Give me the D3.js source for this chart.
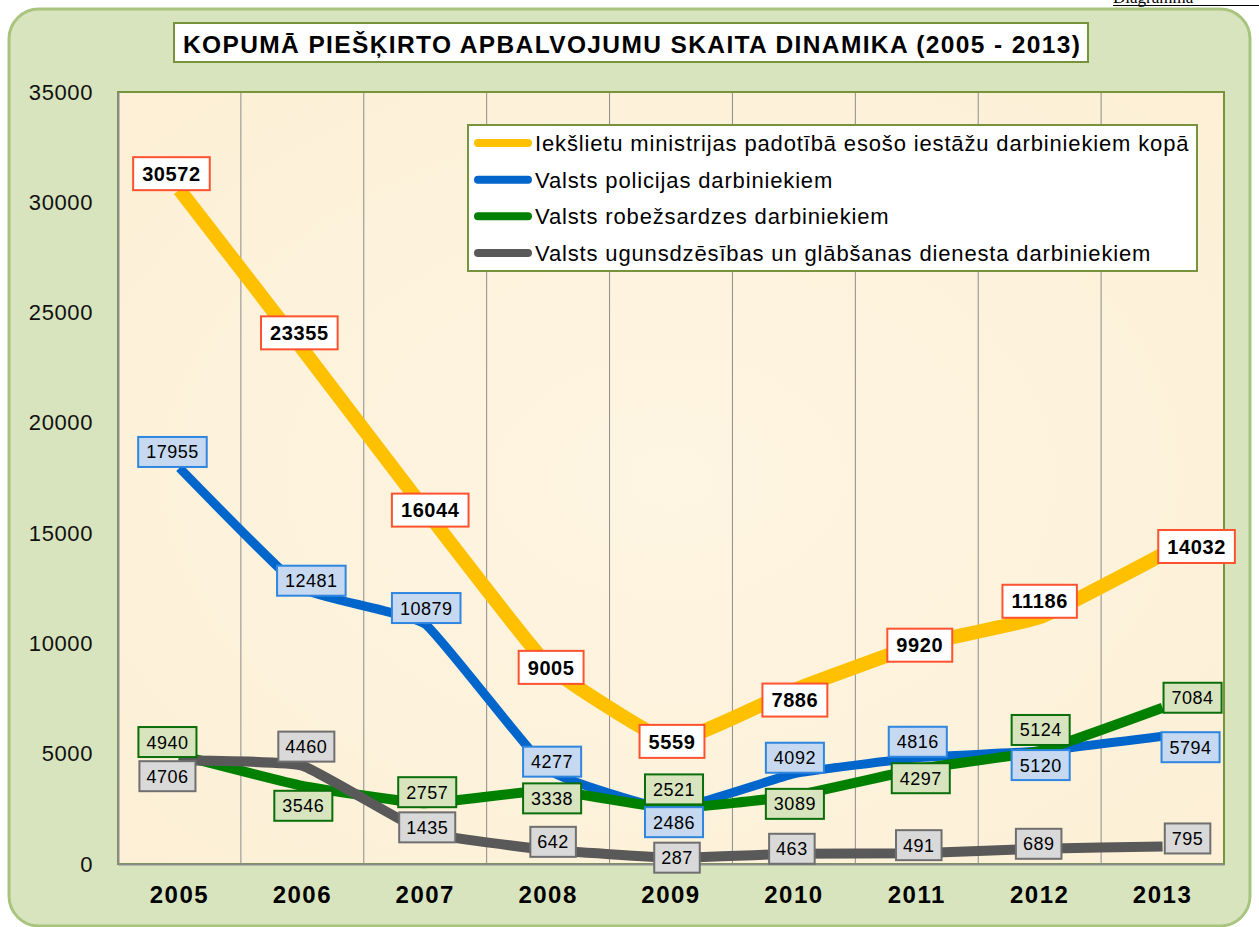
<!DOCTYPE html>
<html>
<head>
<meta charset="utf-8">
<script src="https://cdn.jsdelivr.net/npm/d3@7"></script>
<style>
  html, body { margin: 0; padding: 0; background: #ffffff; }
  svg { display: block; }
</style>
</head>
<body>
<svg id="chart" width="1259" height="927"></svg>
<script>
// ---- data ----
const years = ["2005","2006","2007","2008","2009","2010","2011","2012","2013"];
const totalMinistry = [30572, 23355, 16044, 9005, 5559, 7886, 9920, 11186, 14032];
const statePolice   = [17955, 12481, 10879, 4277, 2486, 4092, 4816, 5120, 5794];
const borderGuard   = [4940, 3546, 2757, 3338, 2521, 3089, 4297, 5124, 7084];
const fireRescue    = [4706, 4460, 1435, 642, 287, 463, 491, 689, 795];
const yTicks = [0, 5000, 10000, 15000, 20000, 25000, 30000, 35000];
const seriesNames = [
  "Iekšlietu ministrijas padotībā esošo iestāžu darbiniekiem kopā",
  "Valsts policijas darbiniekiem",
  "Valsts robežsardzes darbiniekiem",
  "Valsts ugunsdzēsības un glābšanas dienesta darbiniekiem"
];
const chartTitle = "KOPUMĀ PIEŠĶIRTO APBALVOJUMU SKAITA DINAMIKA (2005 - 2013)";

// ---- layout / styles ----
const plot = { left: 118, right: 1224, top: 92, bottom: 864 };
const FONT = "Liberation Sans, Arial, sans-serif";

const styles = [
  { line: "#ffc000", width: 14, fill: "#ffffff", stroke: "#ff5330", bold: true,  fs: 20, h: 33, pad: 9,  ls: 0.6 },
  { line: "#0066cc", width: 9,  fill: "#c6d9f1", stroke: "#2f86e0", bold: false, fs: 18, h: 30, pad: 8,  ls: 0.5 },
  { line: "#008000", width: 10, fill: "#d7e4bd", stroke: "#0a6e0a", bold: false, fs: 18, h: 30, pad: 8,  ls: 0.5 },
  { line: "#595959", width: 10, fill: "#d9d9d9", stroke: "#6f6f6f", bold: false, fs: 18, h: 30, pad: 7,  ls: 0.5 }
];
// label box centre offsets from each point (pixels)
const labelOffsets = [
  [[-8,-16],[-3,-16],[5,0],[3,2],[1,0],[1,10],[3,0],[0,-16],[34,-8]],
  [[-7,-16],[9,-8],[1,-16],[4,-8],[3,13],[1,-16],[1,-16],[1,14],[28,11]],
  [[-12,-13],[1,20],[2,-11],[4,8],[3,-19],[1,8],[4,9],[1,-21],[30,-10]],
  [[-12,16],[4,-19],[2,-5],[5,-8],[6,0],[-2,-5],[2,-8],[-1,-5],[25,-8]]
];

const series = [totalMinistry, statePolice, borderGuard, fireRescue];

const svg = d3.select("#chart");

// stretch a text's letter spacing so that it spans a target width
function fitWidth(sel, target) {
  const node = sel.node();
  const n = sel.text().length;
  const len = node.getComputedTextLength();
  sel.attr("letter-spacing", Math.max(0, (target - len) / (n - 1)));
}

// top-right cut-off caption
svg.append("text").attr("x", 1113).attr("y", 3)
  .attr("font-family", "Liberation Serif, Times New Roman, serif")
  .attr("font-size", 17).attr("fill", "#000").text("Diagramma");
svg.append("line").attr("x1", 1113).attr("x2", 1259).attr("y1", 5.5).attr("y2", 5.5)
  .attr("stroke", "#000").attr("stroke-width", 1.2);

// outer panel
svg.append("rect").attr("x", 9).attr("y", 9).attr("width", 1241).attr("height", 917)
  .attr("rx", 30).attr("ry", 30)
  .attr("fill", "#d7e4bd").attr("stroke", "#a9c47f").attr("stroke-width", 3);

// title box
svg.append("rect").attr("x", 174).attr("y", 23).attr("width", 914).attr("height", 39)
  .attr("fill", "#ffffff").attr("stroke", "#77933c").attr("stroke-width", 2);
const title = svg.append("text").attr("x", 183).attr("y", 53)
  .attr("font-family", FONT).attr("font-weight", "bold")
  .attr("font-size", 24.5).attr("fill", "#000").text(chartTitle);
fitWidth(title, 897);

// scales
const x = d3.scaleBand().domain(years).range([plot.left, plot.right]).padding(0);
const y = d3.scaleLinear().domain([0, 35000]).range([plot.bottom, plot.top]);
const cx = d => x(d) + x.bandwidth() / 2;

// plot background
const defs = svg.append("defs");
const grad = defs.append("radialGradient").attr("id", "bg").attr("cx", "50%").attr("cy", "50%").attr("r", "75%");
grad.append("stop").attr("offset", "0%").attr("stop-color", "#fef5e2");
grad.append("stop").attr("offset", "100%").attr("stop-color", "#fcefd5");
svg.append("rect").attr("x", plot.left).attr("y", plot.top)
  .attr("width", plot.right - plot.left).attr("height", plot.bottom - plot.top)
  .attr("fill", "url(#bg)").attr("stroke", "#77933c").attr("stroke-width", 2);

// vertical gridlines at category boundaries
svg.append("g").selectAll("line").data(years.slice(1)).join("line")
  .attr("x1", d => x(d)).attr("x2", d => x(d))
  .attr("y1", plot.top + 1).attr("y2", plot.bottom)
  .attr("stroke", "#8c8c8c").attr("stroke-width", 1);

// axes
const yAxis = svg.append("g").attr("transform", `translate(${plot.left},0)`)
  .call(d3.axisLeft(y).tickValues(yTicks).tickSize(0).tickPadding(25).tickFormat(d3.format("d")));
yAxis.select(".domain").attr("stroke", "#8c8c8c").attr("stroke-width", 2);
yAxis.selectAll("text").attr("font-family", FONT)
  .attr("font-size", 22).attr("letter-spacing", 0.6).attr("fill", "#111");

const xAxis = svg.append("g").attr("transform", `translate(0,${plot.bottom})`)
  .call(d3.axisBottom(x).tickSize(0).tickPadding(22));
xAxis.select(".domain").attr("stroke", "#8c8c8c").attr("stroke-width", 2);
xAxis.selectAll("text").attr("font-family", FONT)
  .attr("font-weight", "bold").attr("font-size", 24).attr("letter-spacing", 1.5).attr("fill", "#000");

// lines
const lineGen = d3.line().x((d, i) => cx(years[i])).y(d => y(d)).curve(d3.curveCardinal.tension(0.65));
series.forEach((s, k) => {
  svg.append("path").datum(s).attr("d", lineGen)
    .attr("fill", "none").attr("stroke", styles[k].line)
    .attr("stroke-width", styles[k].width).attr("stroke-linejoin", "round");
});

// data labels
series.forEach((s, k) => {
  const st = styles[k];
  const g = svg.append("g");
  s.forEach((v, i) => {
    const px = cx(years[i]) + labelOffsets[k][i][0];
    const py = y(v) + labelOffsets[k][i][1];
    const lg = g.append("g");
    const rect = lg.append("rect");
    const t = lg.append("text").attr("x", px).attr("y", py + st.fs * 0.36)
      .attr("text-anchor", "middle")
      .attr("font-family", FONT).attr("letter-spacing", st.ls)
      .attr("font-size", st.fs).attr("font-weight", st.bold ? "bold" : "normal")
      .attr("fill", "#000").text(d3.format("d")(v));
    const w = t.node().getComputedTextLength() + st.pad * 2;
    rect.attr("x", px - w / 2).attr("y", py - st.h / 2).attr("width", w).attr("height", st.h)
      .attr("fill", st.fill).attr("stroke", st.stroke).attr("stroke-width", 2);
  });
});

// legend
const leg = { x: 468, y: 125, w: 729, h: 146 };
svg.append("rect").attr("x", leg.x).attr("y", leg.y).attr("width", leg.w).attr("height", leg.h)
  .attr("fill", "#ffffff").attr("stroke", "#77933c").attr("stroke-width", 2);
const legY = d3.scalePoint().domain(d3.range(4)).range([143, 253]);
seriesNames.forEach((name, k) => {
  svg.append("line").attr("x1", 478).attr("x2", 528)
    .attr("y1", legY(k)).attr("y2", legY(k))
    .attr("stroke", styles[k].line).attr("stroke-width", 8).attr("stroke-linecap", "round");
  svg.append("text").attr("x", 535).attr("y", legY(k) + 8)
    .attr("font-family", FONT)
    .attr("font-size", 22).attr("letter-spacing", 0.85).attr("fill", "#000").text(name);
});
</script>
</body>
</html>
